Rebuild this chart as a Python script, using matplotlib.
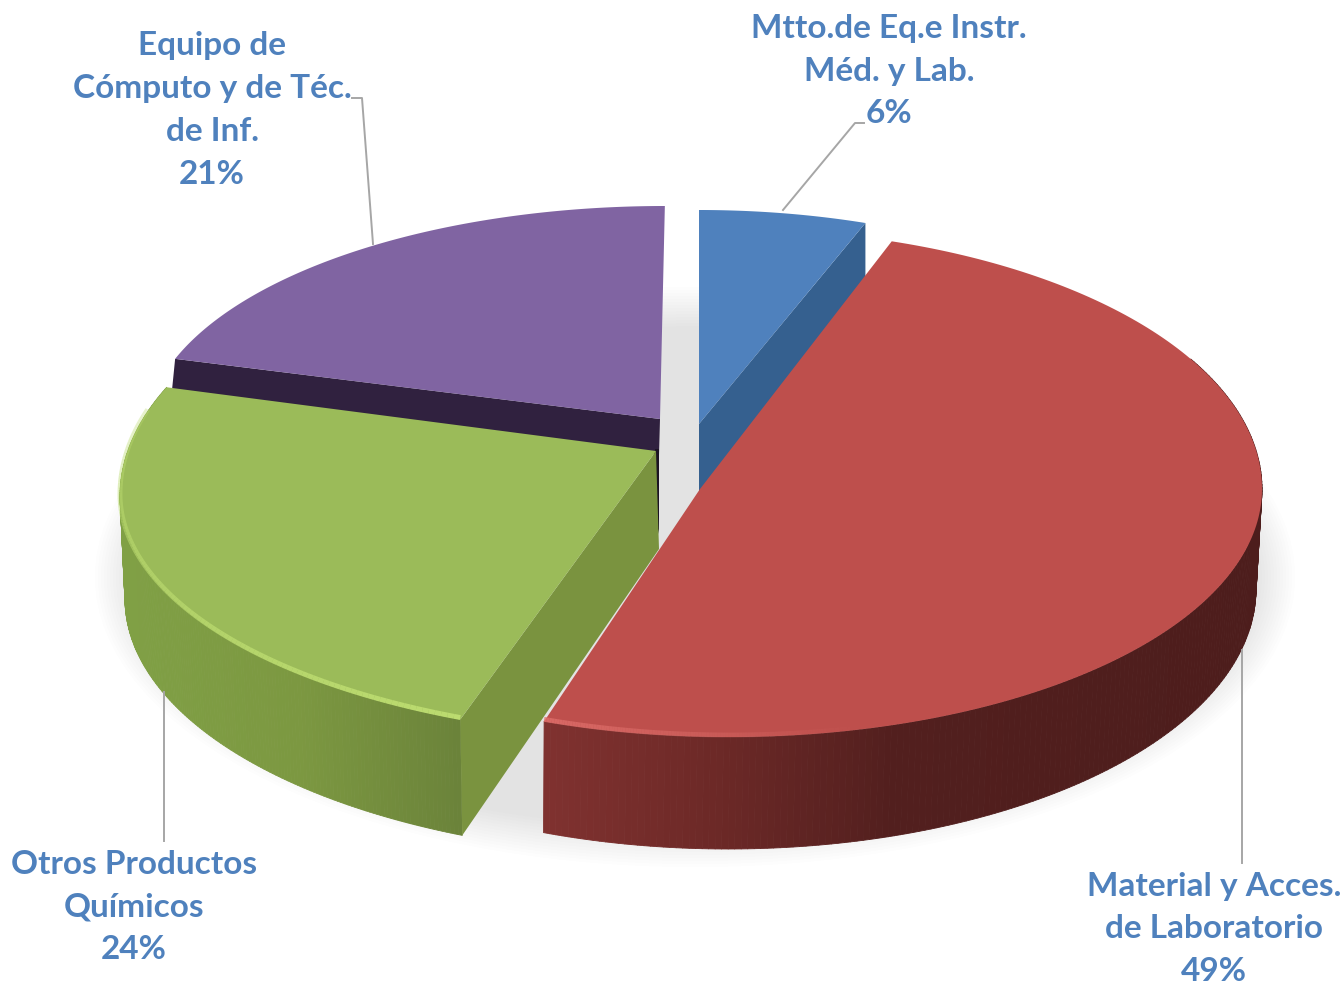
#!/usr/bin/env python
import numpy as np
import matplotlib
matplotlib.use('Agg')
import matplotlib.pyplot as plt
from matplotlib.patches import Ellipse
from matplotlib.collections import PolyCollection, LineCollection

names = ['Mtto.de Eq.e Instr.\nMéd. y Lab.', 'Material y Acces.\nde Laboratorio',
         'Otros Productos\nQuímicos', 'Equipo de\nCómputo y de Téc.\nde Inf.']
values = [6, 49, 24, 21]

top_colors = ['#4f81bd', '#be4f4c', '#9bbb59', '#8064a2']
cut_colors = ['#35608f', None, '#7a933f', '#30213f']
rim_colors = [None, '#e0706c', '#bcdc70', None]

# apex, top ellipse centre, (rx, ry far, ry near), angle tweak, angle stretch
apex = [(699, 425), (700, 490), (656, 452), (660, 420)]
centre = [(699, 439), (730, 490), (680, 497), (665, 437)]
radii = [(500, 228, 228), (532, 260, 248), (560, 272, 243), (520, 230, 230)]
rot = [0, -3.9, 5.1, 5.2]
stretch = [0.9, 1.036, 1.047, 0.931]

# lower edge of the walls
low_centre = [None, (728, 590), (680, 600), None]
low_radii = [None, (528, 260), (555, 257), None]
wall_x = [None, [545, 700, 900, 1260], [125, 300, 460], None]
wall_cols = [None, ['#803230', '#6f2a28', '#521f1e', '#4d1d1c'],
             ['#80a045', '#7c9841', '#6b833a'], None]

label_pos = [(889, 71), (1214, 929), (134, 907), (212, 110)]
leaders = [([783, 855, 864], [211, 124, 124]),
           ([352, 362, 373], [99, 99, 245]),
           ([164, 164], [693, 842]),
           ([1242, 1242], [651, 864])]


def rim(i, phi):
    t = np.radians(phi)
    c = np.cos(t)
    ry = np.where(c > 0, radii[i][1], radii[i][2])
    return centre[i][0] + radii[i][0] * np.sin(t), centre[i][1] - ry * c


def low(i, phi):
    t = np.radians(phi)
    return (low_centre[i][0] + low_radii[i][0] * np.sin(t),
            low_centre[i][1] - low_radii[i][1] * np.cos(t))


def to_rgb(c):
    return np.array(matplotlib.colors.to_rgb(c))


fig = plt.figure(figsize=(13.44, 9.87), dpi=100)
ax = fig.add_axes([0, 0, 1, 1])
ax.set_xlim(0, 1344)
ax.set_ylim(987, 0)
ax.axis('off')

# soft shadow
for k in range(14):
    ax.add_patch(Ellipse((695, 578), 2 * (600 - 3 * k), 2 * (290 - 3 * k),
                         color='#707070', alpha=0.013, lw=0, zorder=1))

starts = 3.6 * np.cumsum([0] + values[:-1])
# back to front
for z, i in enumerate([0, 3, 2, 1]):
    a0 = starts[i] + rot[i]
    a1 = a0 + 3.6 * values[i] * stretch[i]
    phi = np.linspace(a0, a1, 200)
    x, y = rim(i, phi)
    zo = 2 + z

    # outer wall as shaded strips
    if low_centre[i] is not None:
        p = np.linspace(max(a0, 60), min(a1, 310), 200)
        px, py = rim(i, p)
        qx, qy = low(i, p)
        quads = [[(px[k], py[k]), (px[k + 1], py[k + 1]), (qx[k + 1], qy[k + 1]), (qx[k], qy[k])]
                 for k in range(len(p) - 1)]
        stops = np.array([to_rgb(c) for c in wall_cols[i]])
        cols = np.column_stack([np.interp(px[:-1], wall_x[i], stops[:, n]) for n in range(3)])
        ax.add_collection(PolyCollection(quads, facecolors=cols, edgecolors=cols,
                                         linewidths=0.6, zorder=zo))

    # cut faces
    if i == 0:
        ex, ey = x[-1], y[-1]
        ax.fill([ex, ex, apex[i][0], apex[i][0]],
                [ey, ey + 58, apex[i][1] + 70, apex[i][1]],
                color=cut_colors[i], lw=0, zorder=zo)
    elif i == 3:
        ex, ey = x[0], y[0]
        ax.fill([ex, ex - 3, apex[i][0] - 1, apex[i][0]],
                [ey, ey + 30, apex[i][1] + 36, apex[i][1]],
                color=cut_colors[i], lw=0, zorder=zo)
        ax.fill([apex[i][0] - 5, apex[i][0] - 1, apex[i][0] - 1, apex[i][0] - 5],
                [apex[i][1] + 30, apex[i][1] + 30, apex[i][1] + 110, apex[i][1] + 130],
                color='#1c1424', lw=0, zorder=zo)
    elif i == 2:
        ex, ey = x[0], y[0]
        lx, ly = low(i, a0)
        ax.fill([ex, lx, apex[i][0] + 3, apex[i][0]],
                [ey, ly, apex[i][1] + 98, apex[i][1]],
                color=cut_colors[i], lw=0, zorder=zo + 0.5)

    # top surface
    ax.fill(np.r_[apex[i][0], x], np.r_[apex[i][1], y], color=top_colors[i], lw=0, zorder=zo + 0.6)

    # bevel highlight on the near rim
    if rim_colors[i] is not None:
        if i == 2:
            p = np.linspace(a0, a0 + 85, 120)
            fade = np.linspace(1.0, 0.35, 119)
        else:
            p = np.linspace(a1, a1 - 35, 120)
            fade = np.linspace(0.8, 0.0, 119)
        px, py = rim(i, p)
        py = py - 2
        segs = [[(px[k], py[k]), (px[k + 1], py[k + 1])] for k in range(len(p) - 1)]
        rgba = np.column_stack([np.tile(to_rgb(rim_colors[i]), (119, 1)), fade])
        ax.add_collection(LineCollection(segs, colors=rgba, linewidths=3.5, zorder=zo + 0.7))

for lx, ly in leaders:
    ax.plot(lx, ly, color='#a6a6a6', lw=1.4, zorder=10)

for name, v, (tx, ty) in zip(names, values, label_pos):
    ax.text(tx, ty, '{}\n{}%'.format(name, v), family='Lato', weight='bold', size=24,
            color='#4f81bd', ha='center', va='center', linespacing=1.58, zorder=11)

fig.savefig('out.png', dpi=100)
